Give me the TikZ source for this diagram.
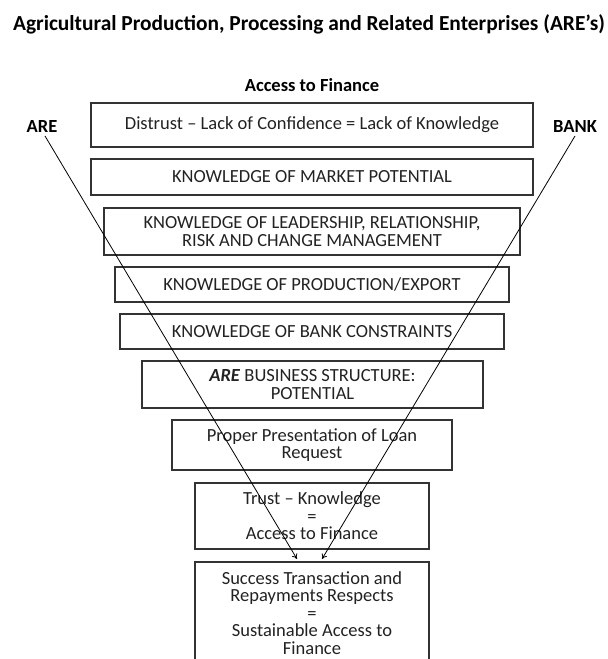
\documentclass[tikz,border=0pt]{standalone}
\usepackage{fontspec}
\setmainfont{Carlito}
\usetikzlibrary{arrows.meta}
\definecolor{boxline}{HTML}{333333}
\definecolor{ink}{HTML}{222222}
\begin{document}
\begin{tikzpicture}[x=1pt,y=-1pt,
  tier/.style={draw=boxline, line width=1.5pt, inner sep=0pt, align=center,
    text=ink, font=\fontsize{18.5}{17.5}\selectfont},
  heading/.style={font=\bfseries\fontsize{18.5}{18}\selectfont, text=black, inner sep=0pt},
  flow/.style={line width=0.8pt, draw=black, -{To[length=5pt,width=6pt]}}]
\useasboundingbox (0,0) rectangle (608,659);

% titles and side labels
\node[heading, font=\bfseries\fontsize{21.4}{21}\selectfont] (title) at (309,24) {Agricultural Production, Processing and Related Enterprises (ARE’s)};
\node[heading] (access) at (312,85) {Access to Finance};
\node[heading] (are) at (42,126) {ARE};
\node[heading] (bank) at (575,126) {BANK};

% funnel of tiers
\node[tier, minimum width=442, minimum height=44] (t1) at (312,125) {Distrust – Lack of Confidence = Lack of Knowledge};
\node[tier, minimum width=442, minimum height=36] (t2) at (312,177) {KNOWLEDGE OF MARKET POTENTIAL};
\node[tier, minimum width=416, minimum height=47] (t3) at (312,231.5) {KNOWLEDGE OF LEADERSHIP, RELATIONSHIP,\\RISK AND CHANGE MANAGEMENT};
\node[tier, minimum width=394, minimum height=35] (t4) at (312,284.5) {KNOWLEDGE OF PRODUCTION/EXPORT};
\node[tier, minimum width=384, minimum height=35] (t5) at (312,331.5) {KNOWLEDGE OF BANK CONSTRAINTS};
\node[tier, minimum width=341, minimum height=47] (t6) at (312.5,384.5) {\textbf{\textit{ARE}} BUSINESS STRUCTURE:\\POTENTIAL};
\node[tier, minimum width=280, minimum height=50] (t7) at (312,445) {Proper Presentation of Loan\\Request};
\node[tier, minimum width=234, minimum height=66] (t8) at (312,516) {Trust – Knowledge\\=\\Access to Finance};
\node[tier, minimum width=234, minimum height=102] (t9) at (312,613) {Success Transaction and\\Repayments Respects\\=\\Sustainable Access to\\Finance};

% converging paths
\coordinate (areStart) at (45,136);
\coordinate (bankStart) at (575,136);
\coordinate (areEnd) at (297,559);
\coordinate (bankEnd) at (322,559);
\draw[flow] (areStart) -- (areEnd);
\draw[flow] (bankStart) -- (bankEnd);
\end{tikzpicture}
\end{document}
